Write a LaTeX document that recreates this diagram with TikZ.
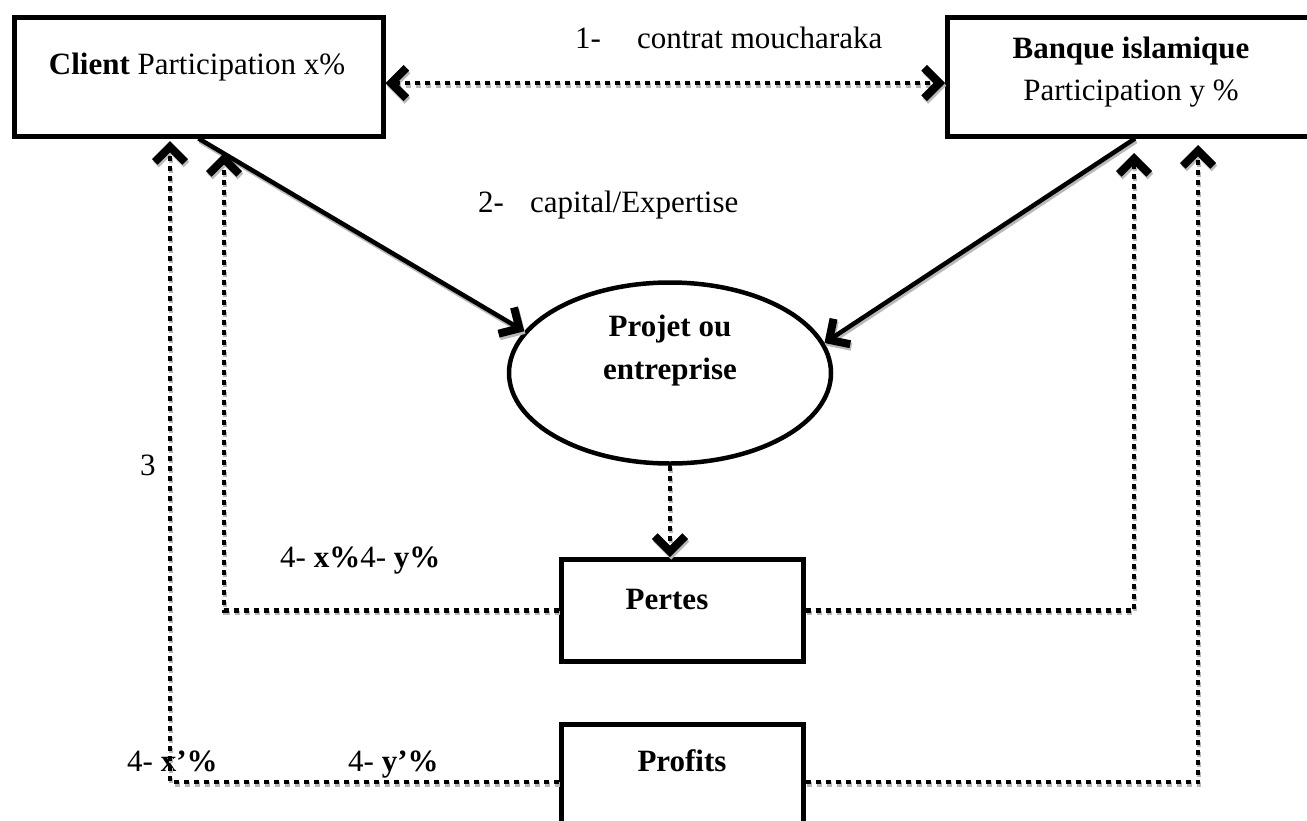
\documentclass[tikz,border=0pt]{standalone}
\usepackage{fontspec}
\setmainfont{Liberation Serif}
\usetikzlibrary{arrows.meta,shapes.geometric,calc}

% draw a path twice: a grey copy shifted down-right as a drop shadow, then the path itself
\newcommand\withshadow[2]{%
  \draw[#1,draw=gray!55,transform canvas={shift={(1.2pt,-2.6pt)}}] #2;
  \draw[#1] #2;}

\begin{document}
\begin{tikzpicture}[x=1pt,y=-1pt,
  every node/.style={font=\fontsize{31}{42}\selectfont},
  boxnode/.style={draw,rectangle,line width=5pt,inner sep=0pt},
  oval/.style={draw,ellipse,line width=4.5pt,inner sep=0pt},
  txt/.style={inner sep=0pt},
  tipend/.style={-{Straight Barb[scale=1.45,line width=8pt]}},
  twotips/.style={{Straight Barb[scale=1.45,line width=8pt]}-{Straight Barb[scale=1.45,line width=8pt]}},
  solidlink/.style={line width=4.5pt},
  dotlink/.style={line width=4.5pt,dash pattern=on 5pt off 5pt},
]
\useasboundingbox (0,0) rectangle (1307,820);
\clip (0,0) rectangle (1307,820);

% boxes and the project oval
\node[boxnode,minimum width=369pt,minimum height=119pt] (client) at (198.5,76.5) {};
\node[boxnode,minimum width=392.5pt,minimum height=119pt] (bank) at (1143.75,76.5) {};
\node[oval,minimum width=322pt,minimum height=181pt] (proj) at (670,373) {};
\node[boxnode,minimum width=242pt,minimum height=101.5pt] (pertes) at (682,610.25) {};
\node[boxnode,minimum width=242pt,minimum height=175.5pt] (profits) at (682,812.25) {};

% texts inside the shapes
\node[txt,anchor=base] (clienttxt) at (197,74) {\textbf{Client} Participation x\%};
\node[txt,align=center] (banktxt) at (1131,72) {\textbf{Banque islamique}\\Participation y \%};
\node[txt,align=center,font=\fontsize{31}{43}\selectfont\bfseries] (projtxt) at (670,351) {Projet ou\\entreprise};
\node[txt,anchor=base] (pertestxt) at (667,609) {\textbf{Pertes}};
\node[txt,anchor=base] (profitstxt) at (682,771) {\textbf{Profits}};

% free labels
\node[txt,anchor=base west] (lbl1) at (575,48) {1-\hspace{36pt}contrat moucharaka};
\node[txt,anchor=base west] (lbl2) at (478,212) {2-\hspace{26pt}capital/Expertise};
\node[txt,anchor=base west] (lbl3) at (140,475) {3};
\node[txt,anchor=base west] (lbl4) at (280,567) {4- \textbf{x\%}4- \textbf{y\%}};
\node[txt,anchor=base west] (lbl5) at (127,771) {4- \textbf{x’\%}};
\node[txt,anchor=base west] (lbl6) at (348,771) {4- \textbf{y’\%}};

% helper points for the connectors
\coordinate (toprow) at (0,83);
\coordinate (lowrow) at (0,782);
\coordinate (tipL1) at (170,141);
\coordinate (tipL2) at (224,153);
\coordinate (tipR1) at (1134,153);
\coordinate (tipR2) at (1198,145);

% connectors
\withshadow{dotlink,twotips}{(client.east |- toprow) -- (bank.west |- toprow)}
\withshadow{solidlink,tipend}{(client.south) -- (proj.164)}
\withshadow{solidlink,tipend}{([xshift=-8.75pt]bank.south) -- (proj.11)}
\withshadow{dotlink,tipend}{(proj.south) -- (proj.south |- pertes.north)}
\withshadow{dotlink,tipend}{(pertes.west) -| (tipL2)}
\withshadow{dotlink,tipend}{(pertes.east) -| (tipR1)}
\withshadow{dotlink,tipend}{(profits.west |- lowrow) -| (tipL1)}
\withshadow{dotlink,tipend}{(profits.east |- lowrow) -| (tipR2)}
\end{tikzpicture}
\end{document}
